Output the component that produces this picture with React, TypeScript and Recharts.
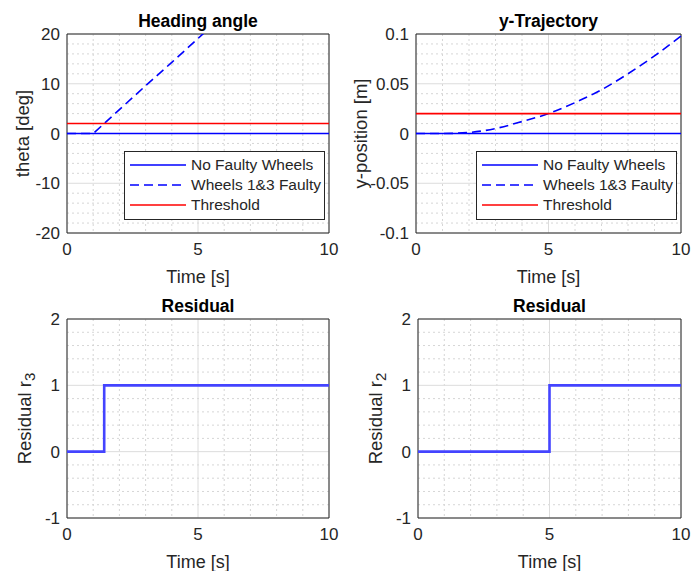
import React from "react";
import {
    LineChart,
    Line,
    XAxis,
    YAxis,
    CartesianGrid,
    ReferenceArea,
    Legend
} from "recharts";

// time axis shared by the top two plots
const TIME = [0, 1, 2, 3, 4, 5, 6, 7, 8, 9, 10];

const THETA_NO_FAULT = [0, 0, 0, 0, 0, 0, 0, 0, 0, 0, 0];
const THETA_FAULTY = [0, 0, 4.8, 9.6, 14.3, 19.1, 23.9, 28.7, 33.5, 38.2, 43.0];
const THETA_THRESHOLD = [2, 2, 2, 2, 2, 2, 2, 2, 2, 2, 2];

const YPOS_NO_FAULT = [0, 0, 0, 0, 0, 0, 0, 0, 0, 0, 0];
const YPOS_FAULTY = [0, 0, 0.001, 0.005, 0.012, 0.02, 0.031, 0.044, 0.06, 0.078, 0.098];
const YPOS_THRESHOLD = [0.02, 0.02, 0.02, 0.02, 0.02, 0.02, 0.02, 0.02, 0.02, 0.02, 0.02];

const R3_TIME = [0, 1.42, 10];
const R3_VALUES = [0, 1, 1];
const R2_TIME = [0, 5, 10];
const R2_VALUES = [0, 1, 1];

// ticks
const X_TICKS = [0, 5, 10];
const X_MINOR = [1, 2, 3, 4, 6, 7, 8, 9];
const THETA_TICKS = [-20, -10, 0, 10, 20];
const THETA_MINOR = [-18, -16, -14, -12, -8, -6, -4, -2, 2, 4, 6, 8, 12, 14, 16, 18];
const YPOS_TICKS = [-0.1, -0.05, 0, 0.05, 0.1];
const YPOS_MINOR = [-0.09, -0.08, -0.07, -0.06, -0.04, -0.03, -0.02, -0.01, 0.01, 0.02, 0.03, 0.04, 0.06, 0.07, 0.08, 0.09];
const RES_TICKS = [-1, 0, 1, 2];
const RES_MINOR = [-0.8, -0.6, -0.4, -0.2, 0.2, 0.4, 0.6, 0.8, 1.2, 1.4, 1.6, 1.8];

const FONT = '"Liberation Sans", Arial, Helvetica, sans-serif';
const INK = "#262626";

const buildRows = (t: number[], cols: Record<string, number[]>) =>
    t.map((time, i) => {
        const row: any = { t: time };
        Object.keys(cols).forEach((k) => (row[k] = cols[k][i]));
        return row;
    });

const headingData = buildRows(TIME, { none: THETA_NO_FAULT, faulty: THETA_FAULTY, thr: THETA_THRESHOLD });
const yposData = buildRows(TIME, { none: YPOS_NO_FAULT, faulty: YPOS_FAULTY, thr: YPOS_THRESHOLD });
const r3Data = buildRows(R3_TIME, { r: R3_VALUES });
const r2Data = buildRows(R2_TIME, { r: R2_VALUES });

interface Series {
    key: string;
    name: string;
    color: string;
    dash?: string;
    width: number;
    type: "linear" | "monotone" | "stepAfter";
}

const topSeries = (smooth: boolean): Series[] => [
    { key: "none", name: "No Faulty Wheels", color: "#0000ff", width: 1.6, type: "linear" },
    { key: "faulty", name: "Wheels 1&3 Faulty", color: "#0000ff", dash: "9 5", width: 1.6, type: smooth ? "monotone" : "linear" },
    { key: "thr", name: "Threshold", color: "#ff0000", width: 1.6, type: "linear" }
];
const residualSeries: Series[] = [{ key: "r", name: "Residual", color: "#4444ff", width: 2.6, type: "stepAfter" }];

const LegendBox = ({ items }: { items: Series[] }) => (
    <div
        style={{
            width: 199,
            height: 64,
            border: `1px solid ${INK}`,
            background: "#fff",
            paddingTop: 3,
            boxSizing: "content-box",
            fontFamily: FONT,
            fontSize: 15.5,
            color: INK
        }}>
        {items.map((s) => (
            <div key={s.key} style={{ display: "flex", alignItems: "center", height: 20 }}>
                <svg width={66} height={20} style={{ flex: "none" }}>
                    <line x1={5} x2={61} y1={10} y2={10} stroke={s.color} strokeWidth={s.width} strokeDasharray={s.dash} />
                </svg>
                <span style={{ whiteSpace: "nowrap" }}>{s.name}</span>
            </div>
        ))}
    </div>
);

interface PanelProps {
    title: string;
    yLabel: string;
    ySub?: string;
    yLabelGap: number;
    data: any[];
    series: Series[];
    domain: [number, number];
    yTicks: number[];
    yMinor: number[];
    width: number;
    height: number;
    margin: { top: number; right: number; bottom: number; left: number };
    yAxisWidth: number;
    legendPos?: { left: number; top: number };
}

const Panel = (props: PanelProps) => {
    const { title, yLabel, ySub, yLabelGap, data, series, domain, yTicks, yMinor, width, height, margin, yAxisWidth, legendPos } = props;

    const yLabelContent = (p: any) => {
        const vb = p.viewBox;
        const cx = vb.x + vb.width - yLabelGap;
        const cy = vb.y + vb.height / 2;
        return (
            <text
                x={cx}
                y={cy}
                transform={`rotate(-90, ${cx}, ${cy})`}
                textAnchor="middle"
                dominantBaseline="central"
                fill={INK}
                fontSize={18.5}
                fontFamily={FONT}>
                {yLabel}
                {ySub && (
                    <tspan dy="0.35em" fontSize={15}>
                        {ySub}
                    </tspan>
                )}
            </text>
        );
    };

    const xLabelContent = (p: any) => {
        const vb = p.viewBox;
        return (
            <text x={vb.x + vb.width / 2} y={vb.y + 50} textAnchor="middle" fill={INK} fontSize={18} fontFamily={FONT}>
                Time [s]
            </text>
        );
    };

    return (
        <LineChart width={width} height={height} data={data} margin={margin} style={{ fontFamily: FONT }}>
            <CartesianGrid horizontalValues={yMinor} verticalValues={X_MINOR} stroke="#d6d6d6" strokeDasharray="2 3" />
            <CartesianGrid horizontalValues={yTicks} verticalValues={X_TICKS} stroke="#dcdcdc" />
            <XAxis
                dataKey="t"
                type="number"
                domain={[0, 10]}
                ticks={X_TICKS}
                interval={0}
                tickLine={false}
                axisLine={false}
                tickMargin={4}
                height={52}
                tick={{ fill: INK, fontSize: 17, fontFamily: FONT }}
                label={{ content: xLabelContent }}
            />
            <YAxis
                type="number"
                domain={domain}
                ticks={yTicks}
                interval={0}
                allowDataOverflow
                tickLine={false}
                axisLine={false}
                tickMargin={1}
                width={yAxisWidth}
                tick={{ fill: INK, fontSize: 17, fontFamily: FONT }}
                label={{ content: yLabelContent }}
            />
            {series.map((s) => (
                <Line
                    key={s.key}
                    dataKey={s.key}
                    name={s.name}
                    type={s.type}
                    stroke={s.color}
                    strokeWidth={s.width}
                    strokeDasharray={s.dash}
                    dot={false}
                    activeDot={false}
                    isAnimationActive={false}
                />
            ))}
            <ReferenceArea
                x1={0}
                x2={10}
                y1={domain[0]}
                y2={domain[1]}
                fill="none"
                stroke={INK}
                strokeWidth={1}
                label={{ value: title, position: "top", offset: 7, fill: "#000", fontSize: 17.5, fontWeight: "bold", fontFamily: FONT }}
            />
            {legendPos && (
                <Legend
                    layout="vertical"
                    align="center"
                    verticalAlign="middle"
                    wrapperStyle={{ left: legendPos.left, top: legendPos.top, width: 201, height: 68 }}
                    content={() => <LegendBox items={series} />}
                />
            )}
        </LineChart>
    );
};

export default function App() {
    return (
        <div style={{ position: "absolute", left: 0, top: 0, width: 692, height: 571, background: "#fff" }}>
            <div style={{ position: "absolute", left: 0, top: 0 }}>
                <Panel
                    title="Heading angle"
                    yLabel="theta [deg]"
                    yLabelGap={45}
                    data={headingData}
                    series={topSeries(false)}
                    domain={[-20, 20]}
                    yTicks={THETA_TICKS}
                    yMinor={THETA_MINOR}
                    width={346}
                    height={290}
                    margin={{ top: 34, right: 17, bottom: 5, left: 5 }}
                    yAxisWidth={62}
                    legendPos={{ left: 124, top: 151 }}
                />
            </div>
            <div style={{ position: "absolute", left: 346, top: 0 }}>
                <Panel
                    title="y-Trajectory"
                    yLabel="y-position [m]"
                    yLabelGap={56}
                    data={yposData}
                    series={topSeries(true)}
                    domain={[-0.1, 0.1]}
                    yTicks={YPOS_TICKS}
                    yMinor={YPOS_MINOR}
                    width={346}
                    height={290}
                    margin={{ top: 34, right: 11, bottom: 5, left: 5 }}
                    yAxisWidth={65}
                    legendPos={{ left: 130, top: 151 }}
                />
            </div>
            <div style={{ position: "absolute", left: 0, top: 288 }}>
                <Panel
                    title="Residual"
                    yLabel="Residual r"
                    ySub="3"
                    yLabelGap={43}
                    data={r3Data}
                    series={residualSeries}
                    domain={[-1, 2]}
                    yTicks={RES_TICKS}
                    yMinor={RES_MINOR}
                    width={346}
                    height={283}
                    margin={{ top: 31, right: 17, bottom: 1, left: 5 }}
                    yAxisWidth={62}
                />
            </div>
            <div style={{ position: "absolute", left: 346, top: 288 }}>
                <Panel
                    title="Residual"
                    yLabel="Residual r"
                    ySub="2"
                    yLabelGap={43}
                    data={r2Data}
                    series={residualSeries}
                    domain={[-1, 2]}
                    yTicks={RES_TICKS}
                    yMinor={RES_MINOR}
                    width={346}
                    height={283}
                    margin={{ top: 31, right: 11, bottom: 1, left: 5 }}
                    yAxisWidth={67}
                />
            </div>
        </div>
    );
}
